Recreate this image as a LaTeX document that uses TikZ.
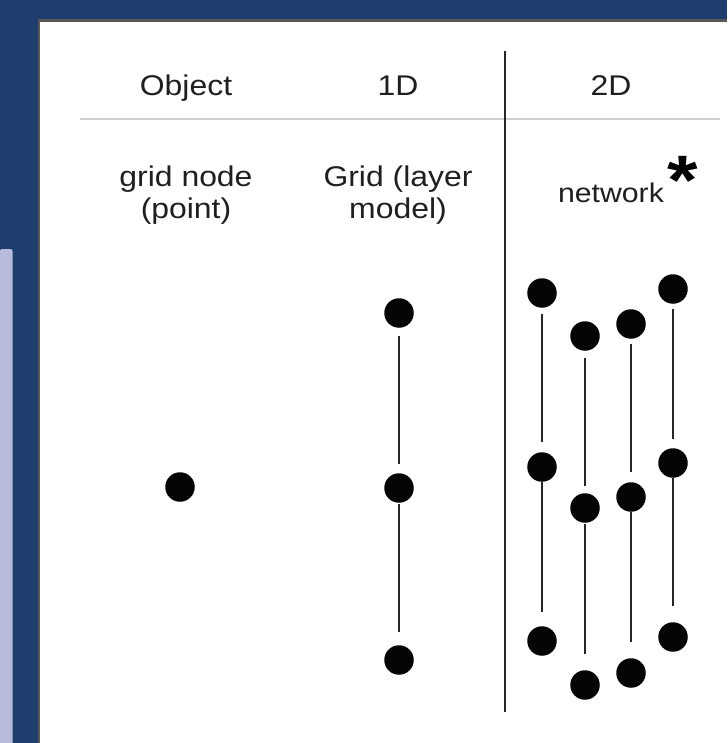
\documentclass[tikz,border=0pt]{standalone}
\usepackage{fontspec}
\setmainfont[FakeStretch=1.12]{Liberation Sans}
\definecolor{bgblue}{HTML}{1F3E6D}
\definecolor{lav}{HTML}{B8BBDC}
\definecolor{hline}{HTML}{CFCFCF}
\definecolor{dotc}{HTML}{050505}
\definecolor{linec}{HTML}{262626}
\begin{document}
\begin{tikzpicture}[x=1pt,y=-1pt,
  lbl/.style={font=\fontsize{28.5}{31.5}\selectfont, text=black!88, inner sep=0pt, align=center},
  dot/.style={circle, fill=dotc, draw=none, minimum size=29.5pt, inner sep=0pt},
  conn/.style={draw=linec, line width=2.5pt}]
\useasboundingbox (0,0) rectangle (727,743);
% background
\fill[bgblue] (0,0) rectangle (727,743);
\fill[lav, rounded corners=2pt] (0,249) rectangle (12.5,760);
\fill[black!65] (37.5,19.5) rectangle (727,743);
\fill[white] (40,22) rectangle (727,743);
% rules
\draw[hline, line width=2pt] (80,119.5) -- (720,119.5);
\coordinate (vt) at (505,51);
\coordinate (vb) at (505,712);
\draw[linec, line width=2.2pt] (vt) -- (vb);
% headers
\node[lbl, anchor=base] (hobj) at (186,96) {Object};
\node[lbl, anchor=base] (h1d) at (398,96) {1D};
\node[lbl, anchor=base] (h2d) at (611,96) {2D};
\node[lbl] (tobj) at (186,195) {grid node\\(point)};
\node[lbl] (t1d) at (398,195) {Grid (layer\\model)};
\node[lbl, font=\fontsize{27}{31}\selectfont, anchor=base] (t2d) at (611,203) {network};
\node[font=\fontsize{70}{70}\selectfont\bfseries, inner sep=0pt] (star) at (683,180) {*};
% object dot
\node[dot] (p0) at (180,487) {};
% 1D
\node[dot] (a1) at (399,313) {};
\node[dot] (a2) at (399,488) {};
\node[dot] (a3) at (399,660) {};
\draw[conn, shorten <=8pt, shorten >=9pt] (a1) -- (a2);
\draw[conn, shorten <=1pt, shorten >=13pt] (a2) -- (a3);
% 2D columns
\node[dot] (b1) at (542,293) {};
\node[dot] (b2) at (542,467) {};
\node[dot] (b3) at (542,641) {};
\node[dot] (c1) at (585,336) {};
\node[dot] (c2) at (585,508) {};
\node[dot] (c3) at (585,685) {};
\node[dot] (d1) at (631,324) {};
\node[dot] (d2) at (631,497) {};
\node[dot] (d3) at (631,673) {};
\node[dot] (e1) at (673,289) {};
\node[dot] (e2) at (673,463) {};
\node[dot] (e3) at (673,637) {};
\draw[conn, shorten <=6pt, shorten >=10pt] (b1) -- (b2);
\draw[conn, shorten <=0pt, shorten >=14pt] (b2) -- (b3);
\draw[conn, shorten <=7pt, shorten >=7pt] (c1) -- (c2);
\draw[conn, shorten <=1pt, shorten >=16pt] (c2) -- (c3);
\draw[conn, shorten <=5pt, shorten >=10pt] (d1) -- (d2);
\draw[conn, shorten <=0pt, shorten >=16pt] (d2) -- (d3);
\draw[conn, shorten <=5pt, shorten >=9pt] (e1) -- (e2);
\draw[conn, shorten <=0pt, shorten >=16pt] (e2) -- (e3);
\end{tikzpicture}
\end{document}
